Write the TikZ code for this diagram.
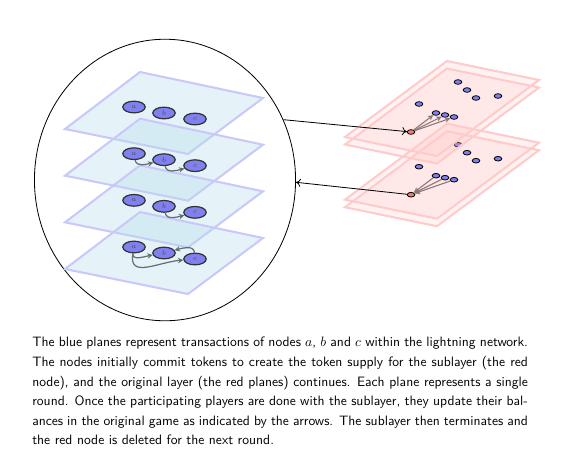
\documentclass[tikz,border=0pt]{standalone}
\usepackage{tikz}
\usetikzlibrary{arrows.meta,shapes.geometric}
\definecolor{lav}{HTML}{C8C8FA}
\definecolor{sky}{HTML}{B5DDEB}
\definecolor{rose}{HTML}{FFCACA}
\definecolor{tok}{HTML}{8080F0}
\definecolor{sub}{HTML}{F08070}
\definecolor{ink}{HTML}{646E6E}
\definecolor{dim}{HTML}{8C7878}
\tikzset{
  bplane/.style={draw=lav,line width=1.5pt,fill=sky,fill opacity=0.35},
  rplane/.style={draw=rose,line width=1.5pt,fill=rose,fill opacity=0.25},
  pl/.style={ellipse,draw=black!80,fill=tok,line width=0.9pt,minimum width=16.5pt,minimum height=8.6pt,
             inner sep=0pt,text=black!70,font=\fontsize{4}{4}\selectfont},
  tokdot/.style={ellipse,draw=black,fill=#1,line width=0.6pt,minimum width=5.6pt,minimum height=3.4pt,inner sep=0pt},
  tokdot/.default=tok,
  tx/.style={-{Stealth[length=4pt,width=4pt]},draw=ink,line width=0.9pt},
  rx/.style={-{Stealth[length=4pt,width=4pt]},draw=dim,line width=0.8pt},
  jump/.style={-{To[length=3.5pt,width=6pt]},semithick},
}
\begin{document}
\begin{tikzpicture}[x=0.7353pt,y=-0.7353pt]
  \useasboundingbox (0,0) rectangle (563,452);
  % zoomed view of the sublayer
  \node[ellipse,draw,semithick,minimum width=192pt,minimum height=207pt,inner sep=0pt] (zoom) at (165,180) {};
  \foreach \k in {0,...,3}{
    \begin{scope}[shift={(0,46.67*\k)}]
      \draw[bplane] (140,72) -- (263,98) -- (188,154) -- (65,129) -- cycle;
      \node[pl] (a\k) at (134,107) {$a$};
      \node[pl] (b\k) at (164,113) {$b$};
      \node[pl] (c\k) at (195,119) {$c$};
    \end{scope}
  }
  \draw[tx] (a1) to[out=-80,in=195] (b1);
  \draw[tx] (b1) to[out=-80,in=195] (c1);
  \draw[tx] (b2) to[out=-80,in=195] (c2);
  \draw[tx] (a3) to[out=-100,in=190] (b3);
  \draw[tx] (a3) to[out=-100,in=185,looseness=1.3] (c3);
  \draw[tx] (c3) to[out=95,in=15] (b3);
  % original layer, two rounds
  \foreach \s/\n in {62.7/2,0/1}{
    \begin{scope}[shift={(0,\s)}]
      \foreach \o in {0,7.5}
        \draw[rplane,shift={(0,\o)}] (447,61) -- (539,80) -- (437,156) -- (345,137) -- cycle;
      \foreach \p [count=\i] in {(458,82),(467,90),(476,98),(498,96),(419,104)}
        \node[tokdot] (t\n\i) at \p {};
      \foreach \p [count=\i] in {(436,113),(445,115),(454,117)}
        \node[tokdot] (u\n\i) at \p {};
      \node[tokdot=sub] (r\n) at (411,132) {};
    \end{scope}
  }
  \foreach \i in {1,2,3}{
    \draw[rx] (r1) -- (u1\i);
    \draw[rx] (u2\i) -- (r2);
  }
  \draw[jump] (zoom.27) -- (r1);
  \draw[jump] (r2) -- (zoom.-1);
  % caption text
  \node[anchor=north west,inner sep=0pt,text width=364.5pt,align=justify,
        font=\sffamily\fontsize{10}{14.4}\selectfont] (note) at (32,337)
    {The blue planes represent transactions of nodes $a$, $b$ and $c$ within the lightning network.\linebreak
     The nodes initially commit tokens to create the token supply for the sublayer (the red\linebreak
     node), and the original layer (the red planes) continues. Each plane represents a single\linebreak
     round. Once the participating players are done with the sublayer, they update their bal-\linebreak
     ances in the original game as indicated by the arrows. The sublayer then terminates and\linebreak
     the red node is deleted for the next round.};
\end{tikzpicture}
\end{document}
